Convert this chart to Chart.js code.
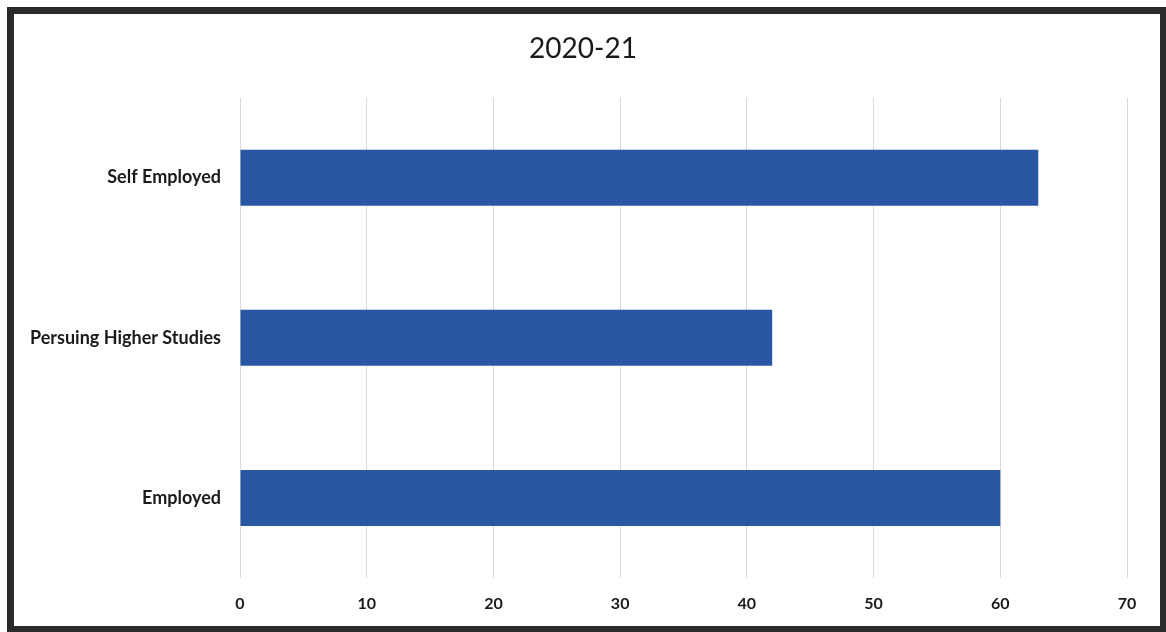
<!DOCTYPE html>
<html>
<head>
<meta charset="utf-8">
<script src="https://cdn.jsdelivr.net/npm/chart.js@4/dist/chart.umd.min.js"></script>
<style>
  html, body { margin: 0; padding: 0; background: #fff; }
  #wrap { position: absolute; left: 0; top: 0; width: 1166px; height: 632px; }
  #frame {
    position: absolute; left: 7px; top: 7px; width: 1159px; height: 625px;
    border: 7px solid #2a2a2a; border-right-width: 6px; border-bottom-width: 6px;
    box-sizing: border-box; pointer-events: none;
  }
</style>
</head>
<body>
<div id="wrap">
  <canvas id="chart" width="1166" height="632"></canvas>
  <div id="frame"></div>
</div>
<script>
const titleText = "2020-21";
const categories = ["Self Employed", "Persuing Higher Studies", "Employed"];
const values = [63, 42, 60];
const xTicks = [0, 10, 20, 30, 40, 50, 60, 70];

const fontFamily = "Lato, 'Open Sans', sans-serif";

new Chart(document.getElementById("chart"), {
  type: "bar",
  data: {
    labels: categories,
    datasets: [
      {
        data: values,
        backgroundColor: "#2a57a3",
        borderWidth: 0,
        categoryPercentage: 1,
        barPercentage: 0.35
      }
    ]
  },
  options: {
    indexAxis: "y",
    responsive: false,
    animation: false,
    layout: { padding: 0 },
    plugins: {
      legend: { display: false },
      tooltip: { enabled: false },
      title: {
        display: true,
        text: titleText,
        color: "#1a1a1a",
        font: { family: fontFamily, size: 28, weight: "normal" },
        padding: { top: 32, bottom: 32 }
      }
    },
    scales: {
      x: {
        min: 0,
        max: 70,
        afterBuildTicks: scale => { scale.ticks = xTicks.map(v => ({ value: v })); },
        afterFit: scale => { scale.height = 54; },
        grid: { color: "#d9d9d9", drawTicks: false },
        border: { display: false },
        ticks: { color: "#1a1a1a", font: { family: fontFamily, size: 16, weight: "bold" }, padding: 16 }
      },
      y: {
        afterFit: scale => { scale.width = 240; },
        grid: { display: false, drawTicks: false },
        border: { display: false },
        ticks: { color: "#1a1a1a", font: { family: fontFamily, size: 18, weight: "bold" }, padding: 19 }
      },
      // empty right margin so the title stays centred on the page
      yRight: {
        type: "category",
        position: "right",
        afterFit: scale => { scale.width = 39; },
        grid: { display: false, drawTicks: false },
        border: { display: false },
        ticks: { display: false }
      }
    }
  }
});
</script>
</body>
</html>
